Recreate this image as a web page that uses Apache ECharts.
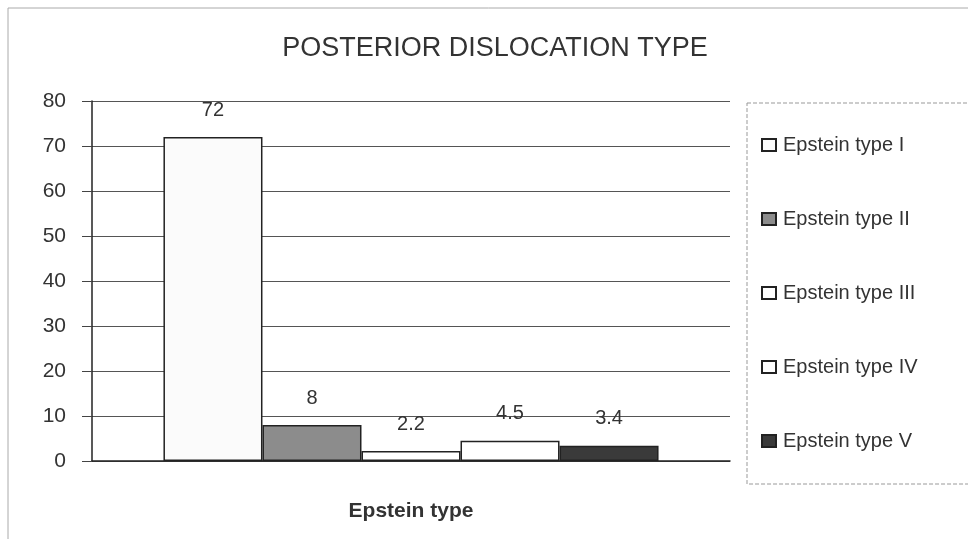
<!DOCTYPE html>
<html>
<head>
    <meta charset="UTF-8">
    <title>Posterior dislocation type</title>
    <style>
        html, body { margin: 0; padding: 0; background: #fff; }
        #chart { width: 968px; height: 539px; }
    </style>
</head>
<body>
    <div id="chart"></div>
    <script src="https://cdn.jsdelivr.net/npm/echarts@6/dist/echarts.min.js"></script>
    <script>
    // data
    var categories = ['Epstein type'];
    var seriesNames = ['Epstein type I', 'Epstein type II', 'Epstein type III', 'Epstein type IV', 'Epstein type V'];
    var seriesValues = [72, 8, 2.2, 4.5, 3.4];
    var seriesColors = ['#fbfbfb', '#8c8c8c', '#ffffff', '#ffffff', '#3a3a3a'];

    var font = 'Liberation Sans, Arial, sans-serif';
    var ink = '#333';

    var series = [];
    for (var i = 0; i < seriesNames.length; i++) {
        series.push({
            name: seriesNames[i],
            type: 'bar',
            barGap: '0%',
            barCategoryGap: '22.4%',
            data: [seriesValues[i]],
            itemStyle: {
                color: seriesColors[i],
                borderColor: '#222',
                borderWidth: 1.5
            },
            label: {
                show: true,
                position: 'top',
                distance: 17,
                color: ink,
                fontFamily: font,
                fontSize: 20
            }
        });
    }

    var chart = echarts.init(document.getElementById('chart'));
    var option = {
        animation: false,
        backgroundColor: '#fff',
        title: {
            text: 'POSTERIOR DISLOCATION TYPE',
            left: 490,
            textAlign: 'center',
            top: 30,
            textStyle: { fontFamily: font, fontSize: 27, fontWeight: 'normal', color: ink }
        },
        graphic: [{
            type: 'rect',
            shape: { x: 8, y: 8, width: 980, height: 560 },
            style: { fill: 'none', stroke: '#aaa', lineWidth: 1 }
        }],
        legend: {
            orient: 'vertical',
            left: 747,
            top: 103,
            padding: [32, 80, 33, 14],
            itemGap: 54,
            itemWidth: 14,
            itemHeight: 12,
            icon: 'rect',
            borderColor: '#999',
            borderWidth: 1,
            borderType: 'dashed',
            textStyle: { fontFamily: font, fontSize: 20, color: ink, padding: [0, 0, 0, 2] },
            data: seriesNames
        },
        grid: { left: 92, right: 238, top: 101, bottom: 78 },
        xAxis: {
            type: 'category',
            data: categories,
            axisLabel: { show: false },
            axisTick: { show: false },
            axisLine: { lineStyle: { color: '#222', width: 1.5 } },
            name: 'Epstein type',
            nameLocation: 'middle',
            nameGap: 40,
            nameTextStyle: { fontFamily: font, fontSize: 21, fontWeight: 'bold', color: ink }
        },
        yAxis: {
            type: 'value',
            min: 0,
            max: 80,
            interval: 10,
            axisLine: { show: true, lineStyle: { color: '#222', width: 1.5 } },
            axisTick: { show: true, length: 10, lineStyle: { color: '#444' } },
            axisLabel: { fontFamily: font, fontSize: 21, color: ink, margin: 26 },
            splitLine: { lineStyle: { color: '#555', width: 1 } }
        },
        series: series
    };
    chart.setOption(option);
    </script>
</body>
</html>
